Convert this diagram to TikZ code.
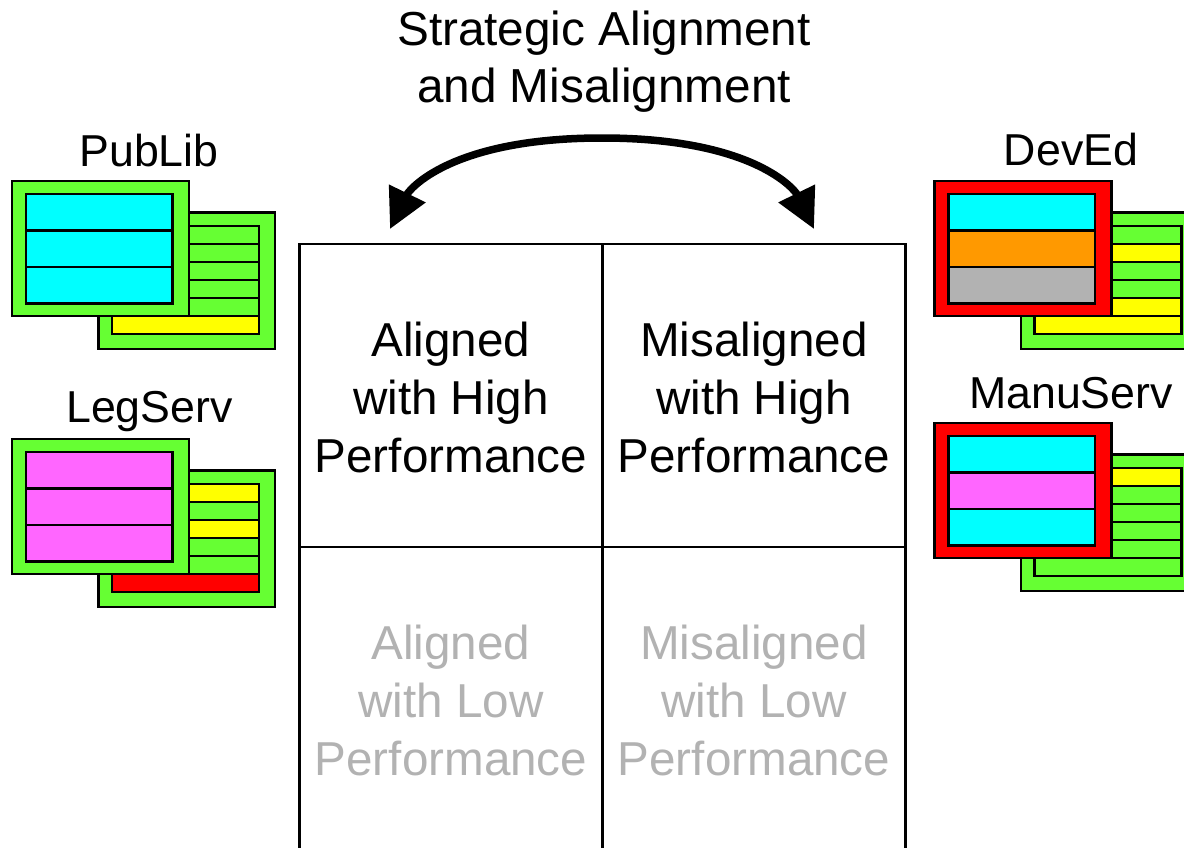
\documentclass[tikz,border=0pt]{standalone}
\usepackage{fontspec}
\setmainfont{Liberation Sans}
\usetikzlibrary{arrows.meta}
\definecolor{pgreen}{HTML}{66FF33}
\definecolor{pcyan}{HTML}{00FFFF}
\definecolor{pmag}{HTML}{FF66FF}
\definecolor{pyel}{HTML}{FFFF00}
\definecolor{pred}{HTML}{FF0000}
\definecolor{porange}{HTML}{FF9900}
\definecolor{pgray}{HTML}{B2B2B2}
\tikzset{
  box/.style={draw=black,line width=2.6pt,line join=miter},
  cell/.style={draw=black,line width=2.4pt,minimum width=303pt,minimum height=303pt,outer sep=0pt,inner sep=0pt},
  celltext/.style={align=center,inner sep=0pt,font=\fontsize{47.6}{58}\selectfont},
  dim/.style={text=pgray},
  title/.style={align=center,inner sep=0pt,font=\fontsize{47.7}{57}\selectfont},
  lab/.style={inner sep=0pt,anchor=base,font=\fontsize{44.7}{54}\selectfont},
}
\newcommand{\panelset}[5]{%
  \begin{scope}[shift={(#1,#2)}]
    \draw[box,fill=pgreen] (98.5,212.5) rectangle (275,349);
    \foreach \c [count=\i from 0] in {#5}{
      \draw[box,fill=\c] (112,226+18*\i) rectangle (259,244+18*\i);
    }
    \draw[box,fill=#3] (12,181) rectangle (189,316);
    \foreach \c [count=\i from 0] in {#4}{
      \draw[box,fill=\c] (26,194+36.4*\i) rectangle (172.5,230.4+36.4*\i);
    }
  \end{scope}
}
\begin{document}
\begin{tikzpicture}[x=1pt,y=-1pt]
\useasboundingbox (0,0) rectangle (1184,847);
\clip (0,0) rectangle (1184,847);
\fill[white] (0,0) rectangle (1184,847);
% matrix
\node[cell] (tl) at (451,395.5) {};
\node[cell] (tr) at (754,395.5) {};
\node[cell] (bl) at (451,698.5) {};
\node[cell] (br) at (754,698.5) {};
\node[celltext] (tlt) at ([yshift=-2pt]tl.center) {Aligned\\with High\\Performance};
\node[celltext] (trt) at ([yshift=-2pt]tr.center) {Misaligned\\with High\\Performance};
\node[celltext,dim] (blt) at ([yshift=-2pt]bl.center) {Aligned\\with Low\\Performance};
\node[celltext,dim] (brt) at ([yshift=-2pt]br.center) {Misaligned\\with Low\\Performance};
% title
\node[title] (ttl) at (604,62) {Strategic Alignment\\and Misalignment};
% panels
\panelset{0}{0}{pgreen}{pcyan,pcyan,pcyan}{pgreen,pgreen,pgreen,pgreen,pgreen,pyel}
\panelset{0}{258}{pgreen}{pmag,pmag,pmag}{pyel,pgreen,pyel,pgreen,pgreen,pred}
\panelset{922.5}{0}{pred}{pcyan,porange,pgray}{pgreen,pyel,pgreen,pgreen,pyel,pyel}
\panelset{922.5}{242}{pred}{pcyan,pmag,pcyan}{pyel,pgreen,pgreen,pgreen,pgreen,pgreen}
\node[lab] (publib) at (149,166) {PubLib};
\node[lab] (legserv) at (149.5,422) {LegServ};
\node[lab] (deved) at (1071,165) {DevEd};
\node[lab] (manuserv) at (1071,408) {ManuServ};
% arrow
\coordinate (tipL) at (390,229);
\coordinate (tipR) at (814,229);
\coordinate (top) at (602,138);
\draw[line width=7.5pt,{Triangle[length=39.6pt,width=39pt]}-{Triangle[length=39.6pt,width=39pt]}]
  (tipL) .. controls (409,190) and (450,138) .. (top)
  .. controls (754,138) and (795,190) .. (tipR);
\end{tikzpicture}
\end{document}
